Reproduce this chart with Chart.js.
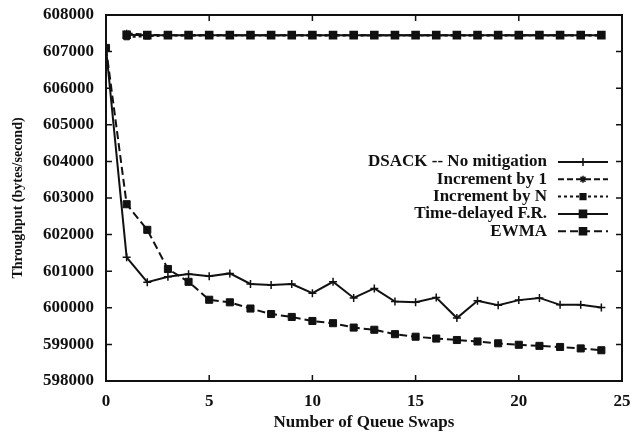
<!DOCTYPE html>
<html>
<head>
<meta charset="utf-8">
<script src="https://cdn.jsdelivr.net/npm/chart.js@4/dist/chart.umd.min.js"></script>
<style>
html,body{margin:0;padding:0;background:#fff;}
#wrap{width:638px;height:433px;}
</style>
</head>
<body>
<div id="wrap"><canvas id="c" width="638" height="433"></canvas></div>
<script>
const swaps = [0,1,2,3,4,5,6,7,8,9,10,11,12,13,14,15,16,17,18,19,20,21,22,23,24];
const xTicks = [0,5,10,15,20,25];
const yTicks = [598000,599000,600000,601000,602000,603000,604000,605000,606000,607000,608000];
const seriesNames = ["DSACK -- No mitigation","Increment by 1","Increment by N","Time-delayed F.R.","EWMA"];
const dsack = [607100,601380,600700,600850,600920,600860,600940,600650,600620,600650,600400,600710,600270,600530,600170,600150,600280,599720,600190,600070,600210,600270,600080,600080,600010];
const incBy1 = [null,607500,607460,607450,607450,607450,607450,607450,607450,607450,607450,607450,607450,607450,607450,607450,607450,607450,607450,607450,607450,607450,607450,607450,607450];
const incByN = [null,607400,607420,607440,607440,607440,607440,607440,607440,607440,607440,607440,607440,607440,607440,607440,607440,607440,607440,607440,607440,607440,607440,607440,607440];
const timeDelayed = [null,607460,607450,607450,607450,607450,607450,607450,607450,607450,607450,607450,607450,607450,607450,607450,607450,607450,607450,607450,607450,607450,607450,607450,607450];
const ewma = [607100,602830,602130,601060,600710,600220,600150,599980,599830,599750,599640,599580,599460,599400,599280,599210,599160,599120,599080,599030,598990,598960,598930,598890,598840];

const INK = '#111';
const FONT = '"Liberation Serif", "Times New Roman", serif';

function pts(arr){ return swaps.map((x,i)=>({x:x,y:arr[i]})); }

const datasets = [
  {label:seriesNames[0], data:pts(dsack), borderDash:[], pointStyle:'cross', pointRadius:4, pointBorderWidth:1.5},
  {label:seriesNames[1], data:pts(incBy1), borderDash:[6,3], pointStyle:'star', pointRadius:3.5, pointBorderWidth:1.5},
  {label:seriesNames[2], data:pts(incByN), borderDash:[3,3], pointStyle:'rect', pointRadius:4, pointBorderWidth:1},
  {label:seriesNames[3], data:pts(timeDelayed), borderDash:[], pointStyle:'rect', pointRadius:5, pointBorderWidth:1.5},
  {label:seriesNames[4], data:pts(ewma), borderDash:[8,4], pointStyle:'rect', pointRadius:5, pointBorderWidth:1}
].map(d=>Object.assign({
  borderColor:INK, backgroundColor:INK, pointBackgroundColor:INK, pointBorderColor:INK,
  borderWidth:2, fill:false, tension:0, spanGaps:false
}, d));

const framePlugin = {
  id:'frame',
  afterDraw(chart){
    const ctx = chart.ctx, a = chart.chartArea;
    const xs = chart.scales.x, ys = chart.scales.y;
    ctx.save();
    ctx.strokeStyle = INK;
    ctx.lineWidth = 2;
    ctx.strokeRect(a.left, a.top, a.right-a.left, a.bottom-a.top);
    ctx.lineWidth = 1.5;
    const L = 6;
    ctx.beginPath();
    xTicks.forEach(v=>{
      const px = xs.getPixelForValue(v);
      ctx.moveTo(px, a.bottom); ctx.lineTo(px, a.bottom-L);
      ctx.moveTo(px, a.top); ctx.lineTo(px, a.top+L);
    });
    yTicks.forEach(v=>{
      const py = ys.getPixelForValue(v);
      ctx.moveTo(a.left, py); ctx.lineTo(a.left+L, py);
      ctx.moveTo(a.right, py); ctx.lineTo(a.right-L, py);
    });
    ctx.stroke();

    // legend
    const textRight = 547, sx0 = 558, sx1 = 608;
    ctx.font = 'bold 17px ' + FONT;
    ctx.textAlign = 'right';
    ctx.textBaseline = 'middle';
    ctx.fillStyle = INK;
    chart.data.datasets.forEach((ds,i)=>{
      const y = 162 + i*17.3;
      ctx.fillText(ds.label, textRight, y);
      ctx.save();
      ctx.setLineDash(ds.borderDash);
      ctx.lineWidth = 2;
      ctx.beginPath(); ctx.moveTo(sx0,y); ctx.lineTo(sx1,y); ctx.stroke();
      ctx.restore();
      Chart.helpers.drawPoint(ctx, {pointStyle:ds.pointStyle, radius:ds.pointRadius, borderWidth:ds.pointBorderWidth, rotation:0}, (sx0+sx1)/2, y);
      ctx.fillStyle = INK;
    });
    ctx.restore();
  }
};

new Chart(document.getElementById('c'), {
  type:'line',
  data:{datasets:datasets},
  plugins:[framePlugin],
  options:{
    responsive:false,
    animation:false,
    layout:{padding:{left:0,right:16,top:15,bottom:0}},
    plugins:{legend:{display:false}, tooltip:{enabled:false}},
    scales:{
      x:{
        type:'linear', min:0, max:25,
        afterBuildTicks(s){ s.ticks = xTicks.map(v=>({value:v})); },
        afterFit(s){ s.height = 52; s.paddingLeft = 0; s.paddingRight = 0; },
        grid:{display:false, drawTicks:false},
        border:{display:false},
        ticks:{color:INK, padding:10, font:{family:FONT, size:17, weight:'bold'}},
        title:{display:true, text:'Number of Queue Swaps', color:INK, padding:{top:2,bottom:0}, font:{family:FONT, size:17, weight:'bold'}}
      },
      y:{
        type:'linear', min:598000, max:608000,
        afterBuildTicks(s){ s.ticks = yTicks.map(v=>({value:v})); },
        afterFit(s){ s.width = 106; s.paddingTop = 0; s.paddingBottom = 0; },
        grid:{display:false, drawTicks:false},
        border:{display:false},
        ticks:{color:INK, padding:12, font:{family:FONT, size:17, weight:'bold'}, callback:v=>String(v)},
        title:{display:true, text:'Throughput (bytes/second)', color:INK, padding:{top:10,bottom:4}, font:{family:FONT, size:14, weight:'bold'}}
      }
    }
  }
});
</script>
</body>
</html>
